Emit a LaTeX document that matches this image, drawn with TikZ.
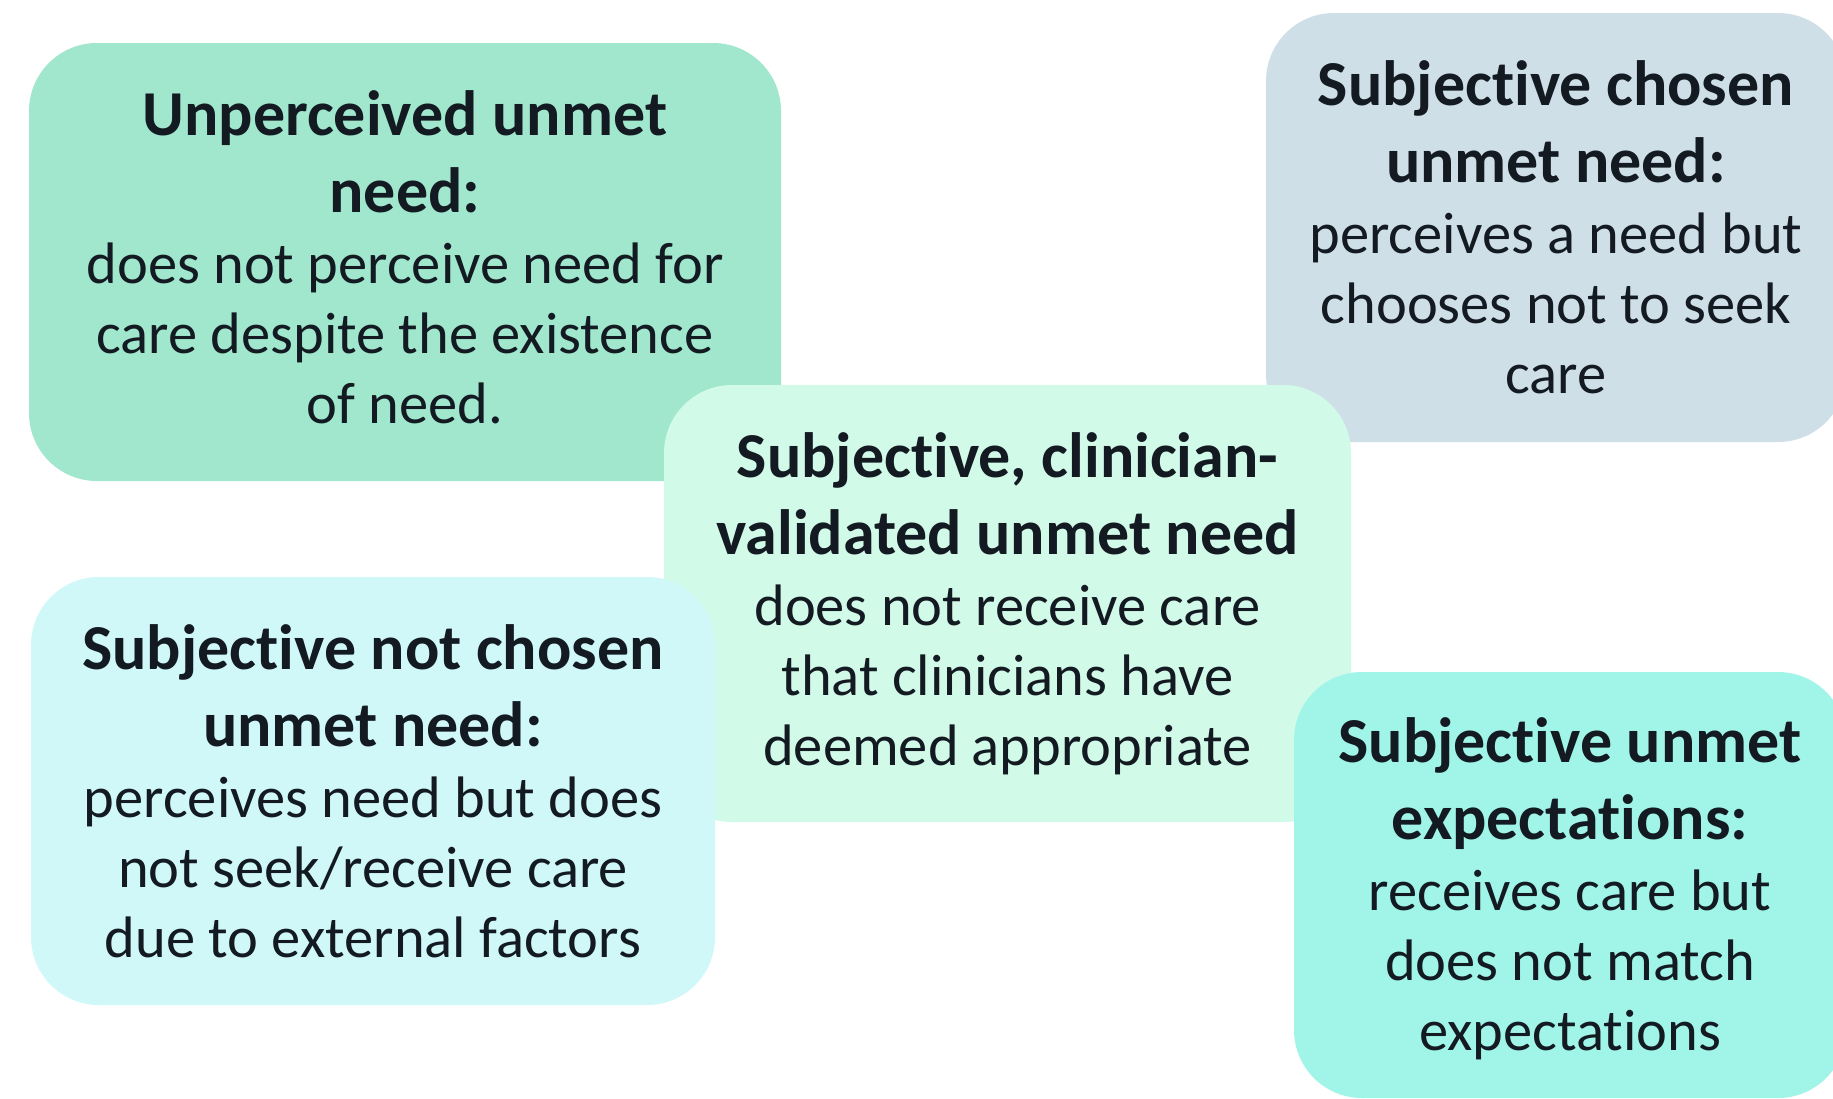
\documentclass[tikz,border=0pt]{standalone}
\usepackage{fontspec}
\setmainfont{Carlito}[Ligatures=NoCommon]
\definecolor{ink}{HTML}{131A22}
\definecolor{fillA}{HTML}{A0E7CD}
\definecolor{fillB}{HTML}{CFDFE8}
\definecolor{fillC}{HTML}{D2FAE8}
\definecolor{fillD}{HTML}{D0F8F8}
\definecolor{fillE}{HTML}{A0F5E8}
\newcommand{\headline}[1]{{\fontsize{64}{70}\selectfont\bfseries #1}}
\begin{document}
\begin{tikzpicture}[x=1pt,y=-1pt,
  box/.style={rounded corners=68pt, inner sep=0pt, align=center,
    text=ink, font=\fontsize{58.5}{70}\selectfont},
]
\fill[white] (0,0) rectangle (1833,1098);
\clip (0,0) rectangle (1833,1098);
\useasboundingbox (0,0) rectangle (1833,1098);

% back row
\node[box, fill=fillA, minimum width=752pt, minimum height=438pt, text depth=9pt] (unperceived) at (405,262)
  {\headline{Unperceived unmet}\\[7pt]\headline{need:}\\[1pt]does not perceive need for\\care despite the existence\\of need.};
\node[box, fill=fillB, minimum width=580pt, minimum height=429pt] (chosen) at (1556,227.5)
  {\headline{Subjective chosen}\\[7pt]\headline{unmet need:}\\[1pt]perceives a need but\\chooses not to seek\\care};
% middle
\node[box, fill=fillC, minimum width=687pt, minimum height=437pt] (validated) at (1007.5,603.5)
  {\headline{Subjective, clinician-}\\[7pt]\headline{validated unmet need}\\[1pt]does not receive care\\that clinicians have\\deemed appropriate};
% front row
\node[box, fill=fillD, minimum width=684pt, minimum height=428pt] (notchosen) at (373,791)
  {\headline{Subjective not chosen}\\[7pt]\headline{unmet need:}\\[1pt]perceives need but does\\not seek/receive care\\due to external factors};
\node[box, fill=fillE, minimum width=552pt, minimum height=426pt, text depth=2pt] (expect) at (1570,885)
  {\headline{Subjective unmet}\\[7pt]\headline{expectations:}\\[1pt]receives care but\\does not match\\expectations};
\end{tikzpicture}
\end{document}
